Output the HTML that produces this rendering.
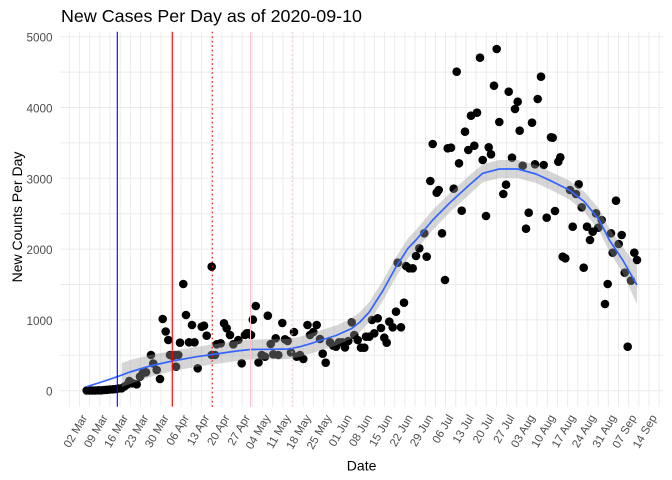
<!DOCTYPE html>
<html><head><meta charset="utf-8"><style>
html,body{margin:0;padding:0;background:#fff;}
svg{display:block;font-family:"Liberation Sans",Arial,sans-serif;}
</style></head><body>
<svg width="672" height="480" viewBox="0 0 672 480" xmlns="http://www.w3.org/2000/svg">
<rect width="672" height="480" fill="#fff"/>
<g stroke="#EBEBEB" stroke-width="1" fill="none">
<path d="M60 390.7H663M60 355.3H663M60 319.9H663M60 284.5H663M60 249.1H663M60 213.7H663M60 178.3H663M60 142.9H663M60 107.5H663M60 72.1H663M60 36.7H663"/>
<path d="M69.3 31.7V406.7M79.47 31.7V406.7M89.64 31.7V406.7M99.81 31.7V406.7M109.98 31.7V406.7M120.15 31.7V406.7M130.32 31.7V406.7M140.49 31.7V406.7M150.66 31.7V406.7M160.83 31.7V406.7M171 31.7V406.7M181.17 31.7V406.7M191.34 31.7V406.7M201.51 31.7V406.7M211.68 31.7V406.7M221.85 31.7V406.7M232.02 31.7V406.7M242.19 31.7V406.7M252.36 31.7V406.7M262.53 31.7V406.7M272.7 31.7V406.7M282.87 31.7V406.7M293.04 31.7V406.7M303.21 31.7V406.7M313.38 31.7V406.7M323.55 31.7V406.7M333.72 31.7V406.7M343.89 31.7V406.7M354.06 31.7V406.7M364.23 31.7V406.7M374.4 31.7V406.7M384.57 31.7V406.7M394.74 31.7V406.7M404.91 31.7V406.7M415.08 31.7V406.7M425.25 31.7V406.7M435.42 31.7V406.7M445.59 31.7V406.7M455.76 31.7V406.7M465.93 31.7V406.7M476.1 31.7V406.7M486.27 31.7V406.7M496.44 31.7V406.7M506.61 31.7V406.7M516.78 31.7V406.7M526.95 31.7V406.7M537.12 31.7V406.7M547.29 31.7V406.7M557.46 31.7V406.7M567.63 31.7V406.7M577.8 31.7V406.7M587.97 31.7V406.7M598.14 31.7V406.7M608.31 31.7V406.7M618.48 31.7V406.7M628.65 31.7V406.7M638.82 31.7V406.7M648.99 31.7V406.7M659.16 31.7V406.7"/>
</g>
<g fill="#000">
<circle cx="86.7" cy="390.5" r="4.3"/><circle cx="89.6" cy="390.5" r="4.3"/><circle cx="92.5" cy="390.5" r="4.3"/><circle cx="95.4" cy="390.5" r="4.3"/><circle cx="98.3" cy="390.3" r="4.3"/><circle cx="101.2" cy="390.3" r="4.3"/><circle cx="104.1" cy="390" r="4.3"/><circle cx="107" cy="389.8" r="4.3"/><circle cx="110" cy="389.5" r="4.3"/><circle cx="112.9" cy="389.3" r="4.3"/><circle cx="115.8" cy="389" r="4.3"/><circle cx="118.7" cy="388.5" r="4.3"/><circle cx="121.6" cy="388.3" r="4.3"/>
<circle cx="124.5" cy="386.5" r="4.3"/><circle cx="127.4" cy="384.5" r="4.3"/><circle cx="129.3" cy="381" r="4.3"/><circle cx="132.7" cy="383.3" r="4.3"/><circle cx="136.7" cy="384.3" r="4.3"/><circle cx="140" cy="376.7" r="4.3"/><circle cx="142.7" cy="373.3" r="4.3"/><circle cx="146" cy="372.3" r="4.3"/>
<circle cx="151" cy="355" r="4.3"/><circle cx="153.3" cy="363.5" r="4.3"/><circle cx="156.7" cy="370" r="4.3"/><circle cx="160" cy="379" r="4.3"/><circle cx="162.7" cy="319" r="4.3"/><circle cx="165.7" cy="331.5" r="4.3"/><circle cx="168.3" cy="340" r="4.3"/><circle cx="170" cy="355" r="4.3"/><circle cx="172.7" cy="356" r="4.3"/><circle cx="175" cy="355" r="4.3"/><circle cx="176" cy="366.7" r="4.3"/><circle cx="178.3" cy="355" r="4.3"/>
<circle cx="180" cy="342.7" r="4.3"/><circle cx="183.3" cy="284" r="4.3"/><circle cx="186" cy="315" r="4.3"/><circle cx="189" cy="342.3" r="4.3"/><circle cx="192" cy="325" r="4.3"/><circle cx="194.5" cy="342.3" r="4.3"/><circle cx="197.7" cy="368.3" r="4.3"/><circle cx="201.7" cy="326.7" r="4.3"/><circle cx="204" cy="325.7" r="4.3"/><circle cx="206.7" cy="335.7" r="4.3"/><circle cx="211.7" cy="266.7" r="4.3"/><circle cx="211.7" cy="355" r="4.3"/><circle cx="215" cy="355" r="4.3"/><circle cx="216.7" cy="344.3" r="4.3"/><circle cx="220.7" cy="343.3" r="4.3"/><circle cx="224" cy="323.3" r="4.3"/><circle cx="226.7" cy="328.3" r="4.3"/><circle cx="230" cy="335" r="4.3"/><circle cx="233.3" cy="344.3" r="4.3"/><circle cx="238.3" cy="340" r="4.3"/><circle cx="241.7" cy="363.3" r="4.3"/><circle cx="245" cy="335" r="4.3"/><circle cx="246.7" cy="333.3" r="4.3"/><circle cx="248.3" cy="333.3" r="4.3"/><circle cx="251" cy="335" r="4.3"/><circle cx="252.8" cy="319.7" r="4.3"/><circle cx="255.8" cy="306" r="4.3"/><circle cx="258.5" cy="362.5" r="4.3"/><circle cx="261.7" cy="355" r="4.3"/><circle cx="265" cy="356.7" r="4.3"/><circle cx="267.8" cy="315.7" r="4.3"/><circle cx="270.7" cy="344" r="4.3"/><circle cx="273.3" cy="354.3" r="4.3"/><circle cx="275.7" cy="338.3" r="4.3"/><circle cx="278.3" cy="355" r="4.3"/><circle cx="282.3" cy="323" r="4.3"/><circle cx="285" cy="339.3" r="4.3"/><circle cx="287.7" cy="341" r="4.3"/><circle cx="291" cy="352.5" r="4.3"/><circle cx="294" cy="332" r="4.3"/><circle cx="296.7" cy="356.7" r="4.3"/><circle cx="300" cy="355" r="4.3"/><circle cx="303.3" cy="359" r="4.3"/><circle cx="307.5" cy="325" r="4.3"/><circle cx="310" cy="335" r="4.3"/><circle cx="313.3" cy="332" r="4.3"/><circle cx="316.7" cy="325" r="4.3"/><circle cx="320" cy="339" r="4.3"/><circle cx="322.7" cy="353.7" r="4.3"/><circle cx="325.7" cy="362.7" r="4.3"/><circle cx="330" cy="342.3" r="4.3"/><circle cx="333.3" cy="345.7" r="4.3"/><circle cx="336" cy="346.7" r="4.3"/><circle cx="339" cy="342.3" r="4.3"/><circle cx="342.3" cy="342.3" r="4.3"/><circle cx="345" cy="347.5" r="4.3"/><circle cx="348.3" cy="341" r="4.3"/><circle cx="351.7" cy="322.3" r="4.3"/><circle cx="354.3" cy="335" r="4.3"/><circle cx="357.7" cy="340" r="4.3"/><circle cx="361" cy="347.7" r="4.3"/><circle cx="364.3" cy="347.7" r="4.3"/><circle cx="366" cy="336.7" r="4.3"/><circle cx="369.3" cy="336.7" r="4.3"/><circle cx="372" cy="320" r="4.3"/><circle cx="374.3" cy="333.3" r="4.3"/><circle cx="377.7" cy="318.3" r="4.3"/><circle cx="381" cy="328" r="4.3"/><circle cx="384.3" cy="337.7" r="4.3"/><circle cx="386.7" cy="342.7" r="4.3"/><circle cx="389.3" cy="321.7" r="4.3"/><circle cx="392.7" cy="327.3" r="4.3"/><circle cx="396" cy="311.7" r="4.3"/><circle cx="397.7" cy="262.7" r="4.3"/><circle cx="401" cy="327.3" r="4.3"/><circle cx="404" cy="302.7" r="4.3"/><circle cx="406" cy="266" r="4.3"/><circle cx="409.3" cy="268.3" r="4.3"/><circle cx="412.7" cy="268.3" r="4.3"/><circle cx="416" cy="256" r="4.3"/><circle cx="419.3" cy="248.3" r="4.3"/><circle cx="424.3" cy="233.3" r="4.3"/><circle cx="426.7" cy="256.7" r="4.3"/><circle cx="430.3" cy="181" r="4.3"/><circle cx="432.7" cy="144" r="4.3"/><circle cx="436.7" cy="192.7" r="4.3"/><circle cx="438.7" cy="190" r="4.3"/><circle cx="442" cy="233.3" r="4.3"/><circle cx="445" cy="280" r="4.3"/><circle cx="447.7" cy="148.3" r="4.3"/><circle cx="451" cy="147.7" r="4.3"/><circle cx="453.7" cy="188.7" r="4.3"/><circle cx="456.7" cy="71.7" r="4.3"/><circle cx="459" cy="163.3" r="4.3"/><circle cx="461.7" cy="210.7" r="4.3"/><circle cx="465" cy="131.7" r="4.3"/><circle cx="468.3" cy="150" r="4.3"/><circle cx="471" cy="115.7" r="4.3"/><circle cx="474.3" cy="145.7" r="4.3"/><circle cx="477" cy="112.7" r="4.3"/><circle cx="480" cy="57.7" r="4.3"/><circle cx="482.7" cy="160" r="4.3"/><circle cx="486" cy="216" r="4.3"/><circle cx="488.7" cy="147.3" r="4.3"/><circle cx="491" cy="154.3" r="4.3"/><circle cx="494" cy="85.7" r="4.3"/><circle cx="496.7" cy="49" r="4.3"/><circle cx="499.3" cy="122" r="4.3"/><circle cx="503.3" cy="194" r="4.3"/><circle cx="506" cy="184.7" r="4.3"/><circle cx="508.7" cy="91.7" r="4.3"/><circle cx="512" cy="157.7" r="4.3"/><circle cx="515" cy="109" r="4.3"/><circle cx="517.7" cy="101.7" r="4.3"/><circle cx="519.7" cy="130.7" r="4.3"/><circle cx="522.7" cy="165.7" r="4.3"/><circle cx="526" cy="228.7" r="4.3"/><circle cx="528.7" cy="212.7" r="4.3"/><circle cx="532" cy="122.7" r="4.3"/><circle cx="535" cy="164.3" r="4.3"/><circle cx="537.7" cy="99" r="4.3"/><circle cx="541" cy="76.7" r="4.3"/><circle cx="543.7" cy="165" r="4.3"/><circle cx="546.7" cy="217.7" r="4.3"/><circle cx="551" cy="137.3" r="4.3"/><circle cx="552.7" cy="137.7" r="4.3"/><circle cx="555" cy="211" r="4.3"/><circle cx="558.3" cy="161.7" r="4.3"/><circle cx="560.3" cy="157.3" r="4.3"/><circle cx="562.7" cy="256.7" r="4.3"/><circle cx="565.3" cy="258.3" r="4.3"/><circle cx="570" cy="190" r="4.3"/><circle cx="572.7" cy="226.7" r="4.3"/><circle cx="576" cy="194" r="4.3"/><circle cx="578.7" cy="184.3" r="4.3"/><circle cx="581.7" cy="207.3" r="4.3"/><circle cx="583.7" cy="267.7" r="4.3"/><circle cx="587" cy="226.7" r="4.3"/><circle cx="590" cy="240" r="4.3"/><circle cx="592.7" cy="231.7" r="4.3"/><circle cx="596" cy="213.3" r="4.3"/><circle cx="598.3" cy="227.7" r="4.3"/><circle cx="601.7" cy="220" r="4.3"/><circle cx="605" cy="304" r="4.3"/><circle cx="607.7" cy="284" r="4.3"/><circle cx="611" cy="233.3" r="4.3"/><circle cx="612.7" cy="252.7" r="4.3"/><circle cx="616" cy="200.7" r="4.3"/><circle cx="618.7" cy="244" r="4.3"/><circle cx="621.7" cy="235" r="4.3"/><circle cx="624.7" cy="272.7" r="4.3"/><circle cx="627.7" cy="346.7" r="4.3"/><circle cx="631" cy="280.7" r="4.3"/><circle cx="634.3" cy="252.7" r="4.3"/><circle cx="637" cy="260" r="4.3"/>
</g>
<path fill="#999999" fill-opacity="0.4" d="M121.7 363L130 360L150 355L172.3 351L196.7 346.7L212.3 344.5L236.7 341L250 339.5L270 339.3L288.3 339L300 336.7L311.7 333.3L320 330.5L336 325.5L351.7 318.5L360 312L369.3 302L382.7 281L396 257L408 238.3L416 230L432.7 210L449.3 193.8L469.3 175.5L482.7 164.3L499.3 160L517.7 160L536 165L552.7 172.7L569.3 180.5L584.3 191.7L599.3 209L609.3 228.5L622.7 247L637 266L637 304L622.7 273L609.3 251.5L599.3 231L584.3 211.7L569.3 199.5L552.7 190.7L536 183L517.7 178L499.3 178L482.7 182.3L469.3 194.5L449.3 212.8L432.7 230L416 250L408 258.3L396 277L382.7 301L369.3 322L360 332L351.7 338.5L336 345.5L320 350.5L311.7 353.3L300 356.7L288.3 359L270 359.3L250 359.5L236.7 361L212.3 364.5L196.7 366.7L172.3 371L150 377L130 384L121.7 387Z"/>
<path fill="none" stroke="#3366FF" stroke-width="1.7" stroke-linejoin="round" d="M86.7 386.7L100 382.5L117.3 376.7L130 372L150 366L172.3 361L196.7 356.7L212.3 354.5L236.7 351L250 349.5L270 349.3L288.3 349L300 346.7L311.7 343.3L320 340.5L336 335.5L351.7 328.5L360 322L369.3 312L382.7 291L396 267L408 248.3L416 240L432.7 220L449.3 203.3L469.3 185L482.7 173.3L499.3 169L517.7 169L536 174L552.7 181.7L569.3 190L584.3 201.7L599.3 220L609.3 240L622.7 260L637 285"/>
<g stroke-width="1.1">
<line x1="117.3" y1="31.7" x2="117.3" y2="406.7" stroke="#0000FF"/>
<line x1="172.3" y1="31.7" x2="172.3" y2="406.7" stroke="#FF0000"/>
<line x1="212.3" y1="31.7" x2="212.3" y2="406.7" stroke="#FF0000" stroke-dasharray="1.5,3"/>
<line x1="250.5" y1="31.7" x2="250.5" y2="406.7" stroke="#FFC0CB"/>
<line x1="292" y1="31.7" x2="292" y2="406.7" stroke="#FFC0CB" stroke-dasharray="1.5,3"/>
</g>
<g fill="#4D4D4D" font-size="11.7" text-anchor="end">
<text x="52.5" y="395.7">0</text>
<text x="52.5" y="324.9">1000</text>
<text x="52.5" y="254.1">2000</text>
<text x="52.5" y="183.3">3000</text>
<text x="52.5" y="112.5">4000</text>
<text x="52.5" y="41.7">5000</text>
</g>
<g fill="#4D4D4D" font-size="11.5" text-anchor="end">
<text transform="translate(87.6,417.5) rotate(-60)">02 Mar</text>
<text transform="translate(108,417.5) rotate(-60)">09 Mar</text>
<text transform="translate(128.3,417.5) rotate(-60)">16 Mar</text>
<text transform="translate(148.7,417.5) rotate(-60)">23 Mar</text>
<text transform="translate(169,417.5) rotate(-60)">30 Mar</text>
<text transform="translate(189.3,417.5) rotate(-60)">06 Apr</text>
<text transform="translate(209.7,417.5) rotate(-60)">13 Apr</text>
<text transform="translate(230,417.5) rotate(-60)">20 Apr</text>
<text transform="translate(250.4,417.5) rotate(-60)">27 Apr</text>
<text transform="translate(270.7,417.5) rotate(-60)">04 May</text>
<text transform="translate(291,417.5) rotate(-60)">11 May</text>
<text transform="translate(311.4,417.5) rotate(-60)">18 May</text>
<text transform="translate(331.7,417.5) rotate(-60)">25 May</text>
<text transform="translate(352.1,417.5) rotate(-60)">01 Jun</text>
<text transform="translate(372.4,417.5) rotate(-60)">08 Jun</text>
<text transform="translate(392.7,417.5) rotate(-60)">15 Jun</text>
<text transform="translate(413.1,417.5) rotate(-60)">22 Jun</text>
<text transform="translate(433.4,417.5) rotate(-60)">29 Jun</text>
<text transform="translate(453.8,417.5) rotate(-60)">06 Jul</text>
<text transform="translate(474.1,417.5) rotate(-60)">13 Jul</text>
<text transform="translate(494.4,417.5) rotate(-60)">20 Jul</text>
<text transform="translate(514.8,417.5) rotate(-60)">27 Jul</text>
<text transform="translate(535.1,417.5) rotate(-60)">03 Aug</text>
<text transform="translate(555.5,417.5) rotate(-60)">10 Aug</text>
<text transform="translate(575.8,417.5) rotate(-60)">17 Aug</text>
<text transform="translate(596.1,417.5) rotate(-60)">24 Aug</text>
<text transform="translate(616.5,417.5) rotate(-60)">31 Aug</text>
<text transform="translate(636.8,417.5) rotate(-60)">07 Sep</text>
<text transform="translate(657.2,417.5) rotate(-60)">14 Sep</text>
</g>
<text x="361.6" y="470.7" font-size="14" fill="#000" text-anchor="middle">Date</text>
<text transform="translate(21.8,217) rotate(-90)" font-size="14" fill="#000" text-anchor="middle">New Counts Per Day</text>
<text x="61" y="22" font-size="17.6" fill="#000" textLength="301" lengthAdjust="spacingAndGlyphs">New Cases Per Day as of 2020-09-10</text>
</svg>
</body></html>
